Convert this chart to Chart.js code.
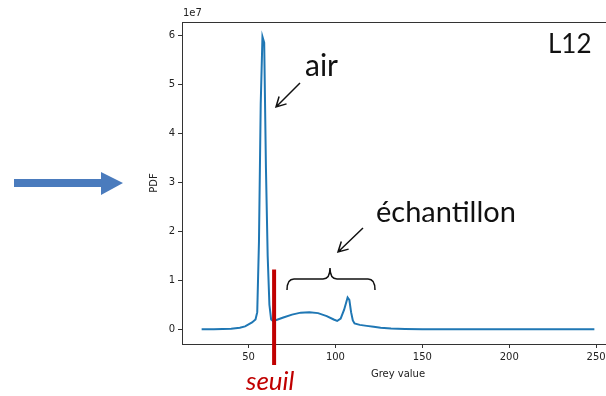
<!DOCTYPE html>
<html>
<head>
<meta charset="utf-8">
<script src="https://cdn.jsdelivr.net/npm/chart.js@4"></script>
<style>
  html, body { margin: 0; padding: 0; background: #fff; overflow: hidden; }
  #wrap { width: 606px; height: 396px; overflow: hidden; }
</style>
</head>
<body>
<div id="wrap"><canvas id="pdfChart" width="640" height="396"></canvas></div>
<script>
// histogramme des niveaux de gris (PDF en unites de 1e7)
const greyValues = [23, 30, 40, 45, 48, 50, 52, 54, 55, 56, 57, 58, 59, 60, 61, 62, 63, 64,
  66, 70, 75, 80, 85, 90, 95, 99, 101, 103, 105, 107, 108, 109, 110, 111,
  114, 118, 122, 126, 132, 140, 150, 249];
const pdfValues = [0, 0, 0.01, 0.03, 0.06, 0.1, 0.14, 0.2, 0.35, 1.8, 4.6, 5.97, 5.85, 3.3, 1.5, 0.5, 0.2, 0.17,
  0.19, 0.24, 0.3, 0.34, 0.35, 0.33, 0.27, 0.2, 0.17, 0.22, 0.4, 0.65, 0.6, 0.35, 0.18, 0.12,
  0.09, 0.07, 0.05, 0.03, 0.015, 0.005, 0, 0];
const xTicks = [50, 100, 150, 200, 250];
const yTicks = [0, 1, 2, 3, 4, 5, 6];
const seuil = 64.7;

document.addEventListener("DOMContentLoaded", () => {
  initChart();
});

function drawArrow(ctx, x1, y1, x2, y2) {
  const ang = Math.atan2(y2 - y1, x2 - x1);
  const len = 11;
  ctx.beginPath();
  ctx.moveTo(x1, y1);
  ctx.lineTo(x2, y2);
  ctx.moveTo(x2 - len * Math.cos(ang - 0.5), y2 - len * Math.sin(ang - 0.5));
  ctx.lineTo(x2, y2);
  ctx.lineTo(x2 - len * Math.cos(ang + 0.5), y2 - len * Math.sin(ang + 0.5));
  ctx.stroke();
}

const annotations = {
  id: "annotations",
  afterDraw(chart) {
    const ctx = chart.ctx;
    const area = chart.chartArea;
    const xs = chart.scales.x;
    const ys = chart.scales.y;
    ctx.save();

    // cadre du haut
    ctx.strokeStyle = "#333";
    ctx.lineWidth = 1;
    ctx.beginPath();
    ctx.moveTo(area.left, area.top + 0.5);
    ctx.lineTo(area.right, area.top + 0.5);
    ctx.lineTo(area.right, area.bottom);
    ctx.stroke();

    // 1e7
    ctx.fillStyle = "#222";
    ctx.font = "10px 'DejaVu Sans'";
    ctx.textBaseline = "alphabetic";
    ctx.textAlign = "left";
    ctx.fillText("1e7", area.left + 1, area.top - 6);

    // fleche bleue
    ctx.fillStyle = "#4a7bbd";
    ctx.beginPath();
    ctx.moveTo(14, 179);
    ctx.lineTo(101, 179);
    ctx.lineTo(101, 172);
    ctx.lineTo(123, 183);
    ctx.lineTo(101, 195);
    ctx.lineTo(101, 187);
    ctx.lineTo(14, 187);
    ctx.closePath();
    ctx.fill();

    // seuil
    const sx = xs.getPixelForValue(seuil);
    ctx.strokeStyle = "#c00000";
    ctx.lineWidth = 4;
    ctx.beginPath();
    ctx.moveTo(sx, ys.getPixelForValue(1.22));
    ctx.lineTo(sx, area.bottom + 21);
    ctx.stroke();

    ctx.fillStyle = "#c00000";
    ctx.font = "italic 26px Lato";
    ctx.textAlign = "left";
    ctx.fillText("seuil", 246, 390);

    // textes
    ctx.fillStyle = "#111";
    ctx.font = "30px Lato";
    ctx.fillText("air", 305, 76);
    ctx.font = "26px Lato";
    ctx.fillText("L12", 548, 53);
    ctx.font = "29px Lato";
    ctx.fillText("échantillon", 376, 222);

    // fleches noires
    ctx.strokeStyle = "#111";
    ctx.lineWidth = 1.5;
    drawArrow(ctx, 300, 83, 276, 107);
    drawArrow(ctx, 363, 228, 338, 252);

    // accolade
    ctx.beginPath();
    ctx.moveTo(287, 290);
    ctx.quadraticCurveTo(287, 279, 294, 279);
    ctx.lineTo(323, 279);
    ctx.quadraticCurveTo(330, 279, 330, 268);
    ctx.quadraticCurveTo(330, 279, 337, 279);
    ctx.lineTo(368, 279);
    ctx.quadraticCurveTo(375, 279, 375, 290);
    ctx.stroke();

    ctx.restore();
  }
};

function initChart() {
  const ctx = document.getElementById("pdfChart").getContext("2d");
  const points = greyValues.map((g, i) => ({ x: g, y: pdfValues[i] }));

  new Chart(ctx, {
    type: "line",
    data: {
      datasets: [{
        data: points,
        borderColor: "#1f77b4",
        borderWidth: 2,
        pointRadius: 0,
        tension: 0,
        fill: false
      }]
    },
    options: {
      responsive: false,
      animation: false,
      layout: {
        padding: { left: 142, right: 26, top: 22, bottom: 0 }
      },
      plugins: {
        legend: { display: false },
        tooltip: { enabled: false }
      },
      scales: {
        x: {
          type: "linear",
          min: 11.7,
          max: 260.3,
          afterFit: (scale) => { scale.height = 52; },
          afterBuildTicks: (scale) => { scale.ticks = xTicks.map(v => ({ value: v })); },
          grid: { drawOnChartArea: false, drawTicks: true, tickLength: 4, color: "#333" },
          border: { display: true, color: "#333", width: 1 },
          ticks: { color: "#222", font: { family: "DejaVu Sans", size: 10 }, padding: 3, maxRotation: 0 },
          title: {
            display: true,
            text: "Grey value",
            color: "#222",
            font: { family: "DejaVu Sans", size: 10 },
            padding: { top: 0, bottom: 16 }
          }
        },
        y: {
          min: -0.3,
          max: 6.27,
          afterFit: (scale) => { scale.width = 40; },
          afterBuildTicks: (scale) => { scale.ticks = yTicks.map(v => ({ value: v })); },
          grid: { drawOnChartArea: false, drawTicks: true, tickLength: 4, color: "#333" },
          border: { display: true, color: "#333", width: 1 },
          ticks: { color: "#222", font: { family: "DejaVu Sans", size: 10 }, padding: 3 },
          title: {
            display: true,
            text: "PDF",
            color: "#222",
            font: { family: "DejaVu Sans", size: 10 },
            padding: { top: 6, bottom: 0 }
          }
        }
      }
    },
    plugins: [annotations]
  });
}
</script>
</body>
</html>
